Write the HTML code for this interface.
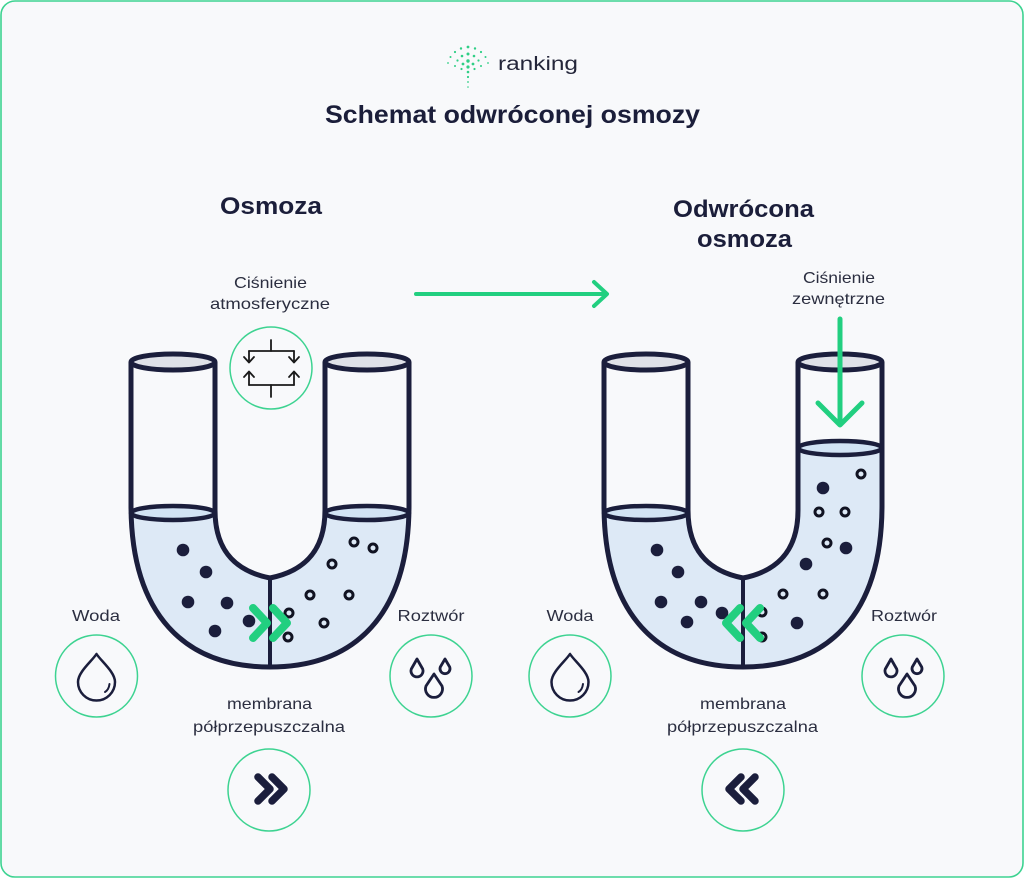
<!DOCTYPE html>
<html><head><meta charset="utf-8"><style>
html,body{margin:0;padding:0;background:#ffffff;}
svg{display:block;}
text{font-family:"Liberation Sans",sans-serif;}
</style></head><body>
<svg width="1024" height="878" viewBox="0 0 1024 878" xmlns="http://www.w3.org/2000/svg">
<defs>
<clipPath id="wl" clipPathUnits="userSpaceOnUse"><rect x="100" y="513" width="170" height="200"/><rect x="270" y="513" width="170" height="200"/></clipPath>
<clipPath id="wr" clipPathUnits="userSpaceOnUse"><rect x="100" y="513" width="170" height="200"/><rect x="270" y="448" width="170" height="265"/></clipPath>
</defs>
<rect x="1" y="1" width="1022" height="876" rx="14" ry="14" fill="#f8f9fb" stroke="#3dd391" stroke-width="1.6"/>

<!-- logo -->
<g fill="#2fcf86">
<circle cx="468" cy="47" r="1.4"/><circle cx="461" cy="48.5" r="1.2"/><circle cx="475" cy="48.5" r="1.2"/><circle cx="455" cy="52" r="1.1"/><circle cx="481" cy="52" r="1.1"/><circle cx="450.5" cy="57" r="1"/><circle cx="485.5" cy="57" r="1"/><circle cx="448" cy="63" r="0.9"/><circle cx="488" cy="63" r="0.9"/>
<circle cx="468" cy="54" r="1.5"/><circle cx="462" cy="56" r="1.3"/><circle cx="474" cy="56" r="1.3"/><circle cx="457.5" cy="60.5" r="1.1"/><circle cx="478.5" cy="60.5" r="1.1"/><circle cx="455" cy="66" r="1"/><circle cx="481" cy="66" r="1"/>
<circle cx="468" cy="61" r="1.7"/><circle cx="463" cy="64" r="1.4"/><circle cx="473" cy="64" r="1.4"/><circle cx="461.5" cy="69" r="1.1"/><circle cx="474.5" cy="69" r="1.1"/>
<circle cx="468" cy="67" r="1.6"/><circle cx="468" cy="72" r="1.3"/><circle cx="468" cy="77" r="1.1"/><circle cx="468" cy="82" r="0.9"/><circle cx="468" cy="87" r="0.8"/>
</g>
<text x="498" y="70" font-size="19" fill="#24263a" textLength="80" lengthAdjust="spacingAndGlyphs">ranking</text>

<!-- title -->
<text x="512.5" y="123" font-size="25" font-weight="bold" fill="#1b1e3a" text-anchor="middle" textLength="375" lengthAdjust="spacingAndGlyphs">Schemat odwróconej osmozy</text>

<!-- headings -->
<text x="271" y="214" font-size="24" font-weight="bold" fill="#1b1e3a" text-anchor="middle" textLength="102" lengthAdjust="spacingAndGlyphs">Osmoza</text>
<text x="743.5" y="217" font-size="24" font-weight="bold" fill="#1b1e3a" text-anchor="middle" textLength="141" lengthAdjust="spacingAndGlyphs">Odwrócona</text>
<text x="744.5" y="247" font-size="24" font-weight="bold" fill="#1b1e3a" text-anchor="middle" textLength="95" lengthAdjust="spacingAndGlyphs">osmoza</text>

<!-- small labels -->
<g font-size="16" fill="#2b2e40" text-anchor="middle">
<text x="270.5" y="288" textLength="73" lengthAdjust="spacingAndGlyphs">Ciśnienie</text>
<text x="270" y="309" textLength="120" lengthAdjust="spacingAndGlyphs">atmosferyczne</text>
<text x="839" y="283" textLength="72" lengthAdjust="spacingAndGlyphs">Ciśnienie</text>
<text x="838.5" y="304" textLength="93" lengthAdjust="spacingAndGlyphs">zewnętrzne</text>
<text x="96" y="621" textLength="48" lengthAdjust="spacingAndGlyphs">Woda</text>
<text x="431" y="621" textLength="67" lengthAdjust="spacingAndGlyphs">Roztwór</text>
<text x="570" y="621" textLength="47" lengthAdjust="spacingAndGlyphs">Woda</text>
<text x="904" y="621" textLength="66" lengthAdjust="spacingAndGlyphs">Roztwór</text>
<text x="269.5" y="709" textLength="85" lengthAdjust="spacingAndGlyphs">membrana</text>
<text x="269" y="732" textLength="152" lengthAdjust="spacingAndGlyphs">półprzepuszczalna</text>
<text x="743" y="709" textLength="86" lengthAdjust="spacingAndGlyphs">membrana</text>
<text x="742.5" y="732" textLength="151" lengthAdjust="spacingAndGlyphs">półprzepuszczalna</text>
</g>

<!-- top arrow -->
<g stroke="#22cf80" stroke-width="4" fill="none" stroke-linecap="round" stroke-linejoin="round">
<line x1="416" y1="294" x2="606" y2="294"/>
<polyline points="594,282 607,294 594,306"/>
</g>

<!-- atmospheric icon -->
<circle cx="271" cy="368" r="41" fill="none" stroke="#3dd391" stroke-width="1.5"/>
<g stroke="#1a1a1a" stroke-width="1.8" fill="none" stroke-linecap="round" stroke-linejoin="round">
<line x1="271" y1="340" x2="271" y2="351"/>
<line x1="249" y1="351" x2="294" y2="351"/>
<line x1="249" y1="385" x2="294" y2="385"/>
<line x1="271" y1="385" x2="271" y2="397"/>
<line x1="249" y1="351" x2="249" y2="362"/>
<line x1="249" y1="372" x2="249" y2="385"/>
<line x1="294" y1="351" x2="294" y2="362"/>
<line x1="294" y1="372" x2="294" y2="385"/>
<polyline points="244,357 249,362.5 254,357"/>
<polyline points="244,377 249,371.5 254,377"/>
<polyline points="289,357 294,362.5 299,357"/>
<polyline points="289,377 294,371.5 299,377"/>
</g>

<!-- LEFT U -->
<g>
<path d="M131,362 L131,505 C131,615 185,667 270,667 C355,667 409,615 409,505 L409,362 L325,362 L325,510 C325,555 300,572 270,578 C240,572 215,555 215,510 L215,362 Z" fill="#dde9f6" clip-path="url(#wl)"/>
<g fill="none" stroke="#1b1e3c" stroke-width="5" stroke-linejoin="round">
<path d="M131,362 L131,505 C131,615 185,667 270,667 C355,667 409,615 409,505 L409,362"/>
<path d="M215,362 L215,510 C215,555 240,572 270,578 C300,572 325,555 325,510 L325,362"/>
</g>
<line x1="270" y1="578" x2="270" y2="667" stroke="#1b1e3c" stroke-width="4"/>
<g fill="#1b1e3c">
<circle cx="183" cy="550" r="6.3"/><circle cx="206" cy="572" r="6.3"/><circle cx="188" cy="602" r="6.3"/><circle cx="227" cy="603" r="6.3"/><circle cx="215" cy="631" r="6.3"/><circle cx="249" cy="621" r="6.3"/>
</g>
<g fill="none" stroke="#111322" stroke-width="3">
<circle cx="354" cy="542" r="4"/><circle cx="373" cy="548" r="4"/><circle cx="332" cy="564" r="4"/><circle cx="310" cy="595" r="4"/><circle cx="349" cy="595" r="4"/><circle cx="289" cy="613" r="4"/><circle cx="324" cy="623" r="4"/><circle cx="288" cy="637" r="4"/>
</g>
<ellipse cx="173" cy="513" rx="42" ry="7" fill="#d2e3f4" stroke="#1b1e3c" stroke-width="4.5"/>
<ellipse cx="367" cy="513" rx="42" ry="7" fill="#d2e3f4" stroke="#1b1e3c" stroke-width="4.5"/>
<ellipse cx="173" cy="362" rx="42" ry="8" fill="#dfe1e8" stroke="#1b1e3c" stroke-width="5"/>
<ellipse cx="367" cy="362" rx="42" ry="8" fill="#dfe1e8" stroke="#1b1e3c" stroke-width="5"/>
<g fill="none" stroke="#22cf80" stroke-width="8" stroke-linecap="round" stroke-linejoin="round">
<polyline points="253,608 267,623 253,638"/>
<polyline points="273,608 287,623 273,638"/>
</g>
</g>

<!-- RIGHT U -->
<g transform="translate(473,0)">
<path d="M131,362 L131,505 C131,615 185,667 270,667 C355,667 409,615 409,505 L409,362 L325,362 L325,510 C325,555 300,572 270,578 C240,572 215,555 215,510 L215,362 Z" fill="#dde9f6" clip-path="url(#wr)"/>
<g fill="none" stroke="#1b1e3c" stroke-width="5" stroke-linejoin="round">
<path d="M131,362 L131,505 C131,615 185,667 270,667 C355,667 409,615 409,505 L409,362"/>
<path d="M215,362 L215,510 C215,555 240,572 270,578 C300,572 325,555 325,510 L325,362"/>
</g>
<line x1="270" y1="578" x2="270" y2="667" stroke="#1b1e3c" stroke-width="4"/>
<g fill="#1b1e3c">
<circle cx="184" cy="550" r="6.3"/><circle cx="205" cy="572" r="6.3"/><circle cx="188" cy="602" r="6.3"/><circle cx="228" cy="602" r="6.3"/><circle cx="214" cy="622" r="6.3"/><circle cx="249" cy="613" r="6.3"/>
<circle cx="350" cy="488" r="6.3"/><circle cx="373" cy="548" r="6.3"/><circle cx="333" cy="564" r="6.3"/><circle cx="324" cy="623" r="6.3"/>
</g>
<g fill="none" stroke="#111322" stroke-width="3">
<circle cx="388" cy="474" r="4"/><circle cx="346" cy="512" r="4"/><circle cx="372" cy="512" r="4"/><circle cx="354" cy="543" r="4"/><circle cx="310" cy="594" r="4"/><circle cx="350" cy="594" r="4"/><circle cx="289" cy="612" r="4"/><circle cx="289" cy="637" r="4"/>
</g>
<ellipse cx="173" cy="513" rx="42" ry="7" fill="#d2e3f4" stroke="#1b1e3c" stroke-width="4.5"/>
<ellipse cx="367" cy="448" rx="42" ry="7" fill="#d2e3f4" stroke="#1b1e3c" stroke-width="4.5"/>
<ellipse cx="173" cy="362" rx="42" ry="8" fill="#dfe1e8" stroke="#1b1e3c" stroke-width="5"/>
<ellipse cx="367" cy="362" rx="42" ry="8" fill="#dfe1e8" stroke="#1b1e3c" stroke-width="5"/>
<g fill="none" stroke="#22cf80" stroke-width="8" stroke-linecap="round" stroke-linejoin="round">
<polyline points="287,608 273,623 287,638"/>
<polyline points="267,608 253,623 267,638"/>
</g>
</g>

<!-- external pressure arrow -->
<g stroke="#22cf80" stroke-width="5" fill="none" stroke-linecap="round" stroke-linejoin="round">
<line x1="840" y1="319" x2="840" y2="423"/>
<polyline points="818,403 840,425 862,403"/>
</g>

<!-- bottom circles -->
<g fill="none" stroke="#3dd391" stroke-width="1.5">
<circle cx="96.5" cy="676" r="41"/>
<circle cx="431" cy="676" r="41"/>
<circle cx="269" cy="790" r="41"/>
<circle cx="570" cy="676" r="41"/>
<circle cx="903" cy="676" r="41"/>
<circle cx="743" cy="790" r="41"/>
</g>

<!-- Woda drops -->
<g fill="none" stroke="#1b1e3c" stroke-width="2.5" stroke-linecap="round" stroke-linejoin="round">
<path d="M96.5,654 C92,661 78,672 78,682 A18.5,18.5 0 0 0 115,682 C115,672 101,661 96.5,654 Z"/>
<path d="M109.5,684 C109,688 107.5,690.5 105,692" stroke-width="2"/>
<path d="M570,654 C565.5,661 551.5,672 551.5,682 A18.5,18.5 0 0 0 588.5,682 C588.5,672 574.5,661 570,654 Z"/>
<path d="M583,684 C582.5,688 581,690.5 578.5,692" stroke-width="2"/>
</g>

<!-- Roztwor drops -->
<g fill="none" stroke="#1b1e3c" stroke-width="2.8" stroke-linejoin="round">
<path d="M417,659 L411.3,669 A6,6 0 1 0 422.7,669 Z"/>
<path d="M445,659 L440.3,667 A5,5 0 1 0 449.7,667 Z"/>
<path d="M434,674 L426,686 A8.5,8.5 0 1 0 442,686 Z"/>
<path d="M891,659 L885.3,669 A6,6 0 1 0 896.7,669 Z"/>
<path d="M917,659 L912.3,667 A5,5 0 1 0 921.7,667 Z"/>
<path d="M907,674 L899,686 A8.5,8.5 0 1 0 915,686 Z"/>
</g>

<!-- membrane chevron icons -->
<g fill="none" stroke="#1b1e3c" stroke-width="7.5" stroke-linecap="round" stroke-linejoin="round">
<polyline points="258,777 270,789 258,801"/>
<polyline points="272,777 284,789 272,801"/>
<polyline points="755,777 743,789 755,801"/>
<polyline points="741,777 729,789 741,801"/>
</g>
</svg>
</body></html>
